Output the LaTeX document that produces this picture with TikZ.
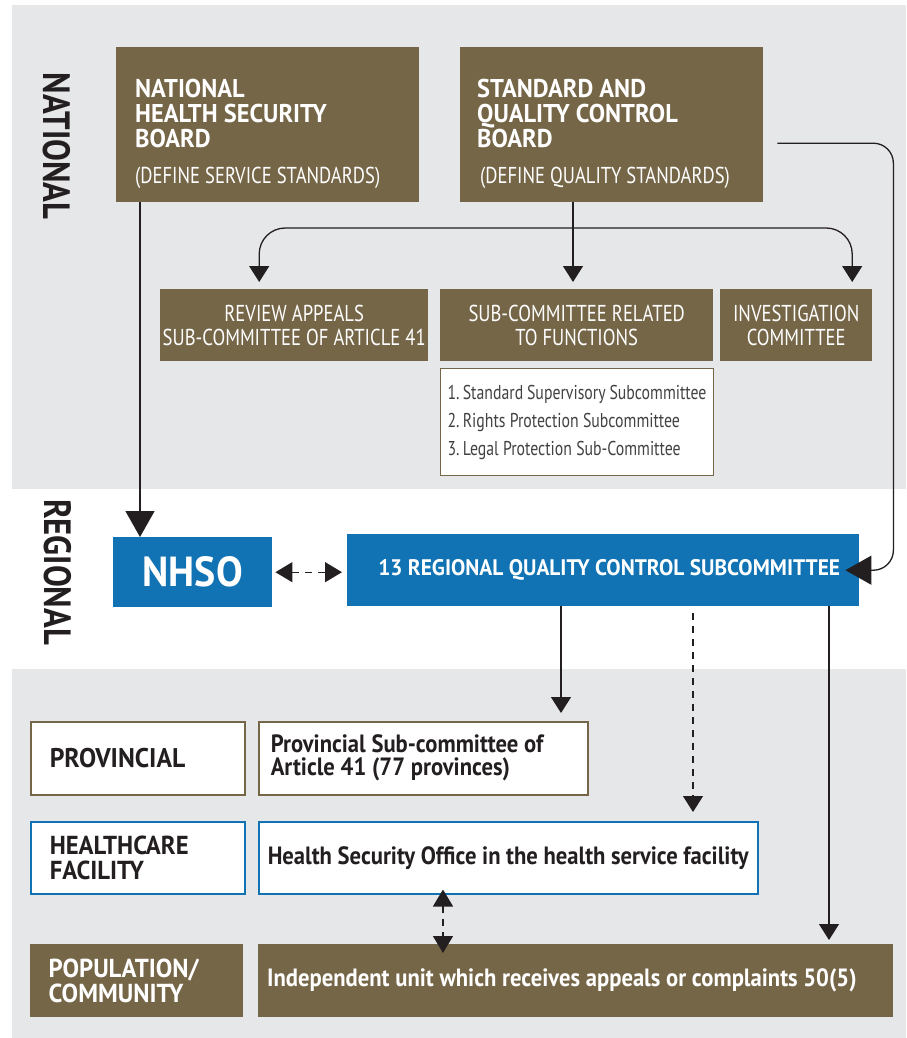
\documentclass[tikz,border=0pt]{standalone}
\usepackage{fontspec}
\setmainfont{PT Sans}
\newfontfamily\sidefont{PT Sans}[FakeStretch=0.86]
\newfontfamily\headfont{PT Sans}[FakeStretch=0.95]
\newfontfamily\lightfont{PT Sans}[FakeStretch=0.81]
\newfontfamily\listfont{PT Sans}[FakeStretch=0.79]
\newfontfamily\lowfont{PT Sans}[FakeStretch=0.905]
\usetikzlibrary{arrows.meta,calc}
\definecolor{boardbrown}{HTML}{766648}
\definecolor{nhsoblue}{HTML}{1173B3}
\definecolor{panelgray}{HTML}{E6E7E8}
\definecolor{inkblack}{HTML}{231F20}
\tikzset{brownbox/.style={fill=boardbrown,text=white,inner sep=0pt,anchor=north west}}
\tikzset{bluebox/.style={fill=nhsoblue,text=white,inner sep=0pt,anchor=north west}}
\tikzset{framebox/.style={fill=white,draw=#1,line width=1.5pt,text=inkblack,inner sep=0pt,anchor=north west}}
\tikzset{sidelabel/.style={rotate=-90,text=inkblack,font=\sidefont\bfseries\fontsize{38}{38}\selectfont}}
\tikzset{wire/.style={draw=inkblack,line width=1.3pt}}
\tikzset{dashwire/.style={wire,dash pattern=on 7pt off 6pt}}
\tikzset{smallhead/.style={-{Triangle[length=16pt,width=20pt]}}}
\tikzset{bighead/.style={-{Triangle[length=26pt,width=29pt]}}}
\tikzset{twohead/.style={{Triangle[length=17pt,width=20pt]}-{Triangle[length=17pt,width=20pt]}}}

\begin{document}
\begin{tikzpicture}[x=1pt,y=-1pt]
\useasboundingbox (0,0) rectangle (906,1038);
\fill[panelgray] (12,5) rectangle (906,489);
\fill[panelgray] (12,669) rectangle (906,1038);

\node[sidelabel] (natlabel) at (57,146) {NATIONAL};
\node[sidelabel] (reglabel) at (58,572) {REGIONAL};

% boards
\node[brownbox,minimum width=303pt,minimum height=155pt,text width=265pt,align=flush left,
  font=\headfont\bfseries\fontsize{25.7}{25}\selectfont] (nhsb) at (116,47)
  {\rule{0pt}{37pt}NATIONAL\\HEALTH SECURITY\\BOARD\\[11pt]{\lightfont\mdseries\fontsize{23}{25}\selectfont(DEFINE SERVICE STANDARDS)\rule[-6pt]{0pt}{0pt}}};
\node[brownbox,minimum width=303pt,minimum height=155pt,text width=269pt,align=flush left,
  font=\headfont\bfseries\fontsize{25.7}{25}\selectfont] (sqcb) at (460,47)
  {\rule{0pt}{37pt}STANDARD AND\\QUALITY CONTROL\\BOARD\\[11pt]{\lightfont\mdseries\fontsize{23}{25}\selectfont\hspace{3pt}(DEFINE QUALITY STANDARDS)\rule[-6pt]{0pt}{0pt}}};

% committees
\node[brownbox,minimum width=268pt,minimum height=72pt,align=flush center,
  font=\lightfont\fontsize{23}{23.5}\selectfont] (review) at (160,289) {REVIEW APPEALS\\SUB-COMMITTEE OF ARTICLE 41};
\node[brownbox,minimum width=273pt,minimum height=72pt,align=flush center,
  font=\lightfont\fontsize{23}{23.5}\selectfont] (subfunc) at (440,289) {SUB-COMMITTEE RELATED\\TO FUNCTIONS};
\node[brownbox,minimum width=152pt,minimum height=72pt,align=flush center,
  font=\lightfont\fontsize{23}{23.5}\selectfont] (invest) at (720,289) {INVESTIGATION\\COMMITTEE};
\node[framebox=boardbrown,line width=1pt,minimum width=273pt,minimum height=107pt,text width=259pt,align=flush left,
  text=inkblack!85,font=\listfont\fontsize{20}{28}\selectfont] (sublist) at (440,368)
  {1.\,Standard Supervisory Subcommittee\\2.\,Rights Protection Subcommittee\\3.\,Legal Protection Sub-Committee};

% regional
\node[bluebox,minimum width=159pt,minimum height=70pt,
  font=\headfont\bfseries\fontsize{42}{42}\selectfont] (nhso) at (113,537) {NHSO};
\node[bluebox,minimum width=512pt,minimum height=72pt,
  font=\headfont\bfseries\fontsize{22.5}{22}\selectfont] (regional) at (347,534) {\hspace{12pt}13 REGIONAL QUALITY CONTROL SUBCOMMITTEE};

% provincial, facility, community
\node[framebox=boardbrown,minimum width=214pt,minimum height=73pt,text width=176pt,align=flush left,
  font=\headfont\bfseries\fontsize{27}{25}\selectfont] (provlabel) at (30,721) {PROVINCIAL};
\node[framebox=boardbrown,minimum width=329pt,minimum height=73pt,text width=305pt,align=flush left,
  font=\lowfont\bfseries\fontsize{25}{23}\selectfont] (provsub) at (258,721) {Provincial Sub-committee of\\Article 41 (77 provinces)};
\node[framebox=nhsoblue,minimum width=214pt,minimum height=72pt,text width=176pt,align=flush left,
  font=\headfont\bfseries\fontsize{26}{25}\selectfont] (hclabel) at (30,821) {HEALTHCARE\\FACILITY};
\node[framebox=nhsoblue,minimum width=499pt,minimum height=72pt,text width=481pt,align=flush left,
  font=\lowfont\bfseries\fontsize{25}{25}\selectfont] (hso) at (258,821) {Health Security Office in the health service facility};
\node[brownbox,minimum width=213pt,minimum height=73pt,text width=176pt,align=flush left,
  font=\headfont\bfseries\fontsize{26}{25}\selectfont] (poplabel) at (30,944) {POPULATION/\\COMMUNITY};
\node[brownbox,minimum width=635pt,minimum height=73pt,text width=617pt,align=flush left,
  font=\lowfont\bfseries\fontsize{25}{25}\selectfont] (indep) at (258,944) {Independent unit which receives appeals or complaints 50(5)};

% connectors
\coordinate (bus) at (573,228);
\draw[wire,smallhead,shorten >=7pt] (bus |- sqcb.south) -- (bus |- subfunc.north);
\draw[wire,smallhead,rounded corners=26pt,shorten >=7pt] (bus) -| ([xshift=-35pt]review.north);
\draw[wire,smallhead,rounded corners=26pt,shorten >=7pt] (bus) -| ([xshift=56pt]invest.north);
\draw[wire,bighead] ([xshift=24pt]nhsb.south west) -- ([xshift=27pt]nhso.north west);
\draw[wire,bighead,rounded corners=20pt,shorten >=-14pt] ([xshift=14pt,yshift=-18.5pt]sqcb.east)
  -| ([xshift=34pt]regional.east) -- (regional.east);
\draw[dashwire,twohead,shorten <=3pt,shorten >=5pt] (nhso.east) -- (nhso.east -| regional.west);

\coordinate (down1) at ([xshift=214pt]regional.south west);
\coordinate (down2) at ([xshift=346pt]regional.south west);
\coordinate (down3) at ([xshift=482pt]regional.south west);
\coordinate (updown) at ([xshift=185pt]hso.south west);
\draw[wire,smallhead,shorten >=8pt] (down1) -- (down1 |- provsub.north);
\draw[dashwire,smallhead,shorten <=7pt,shorten >=9pt] (down2) -- (down2 |- hso.north);
\draw[wire,smallhead,shorten >=4pt] (down3) -- (down3 |- indep.north);
\draw[dashwire,twohead,shorten <=-5pt,shorten >=-9pt] (updown) -- (updown |- indep.north);
\end{tikzpicture}
\end{document}
